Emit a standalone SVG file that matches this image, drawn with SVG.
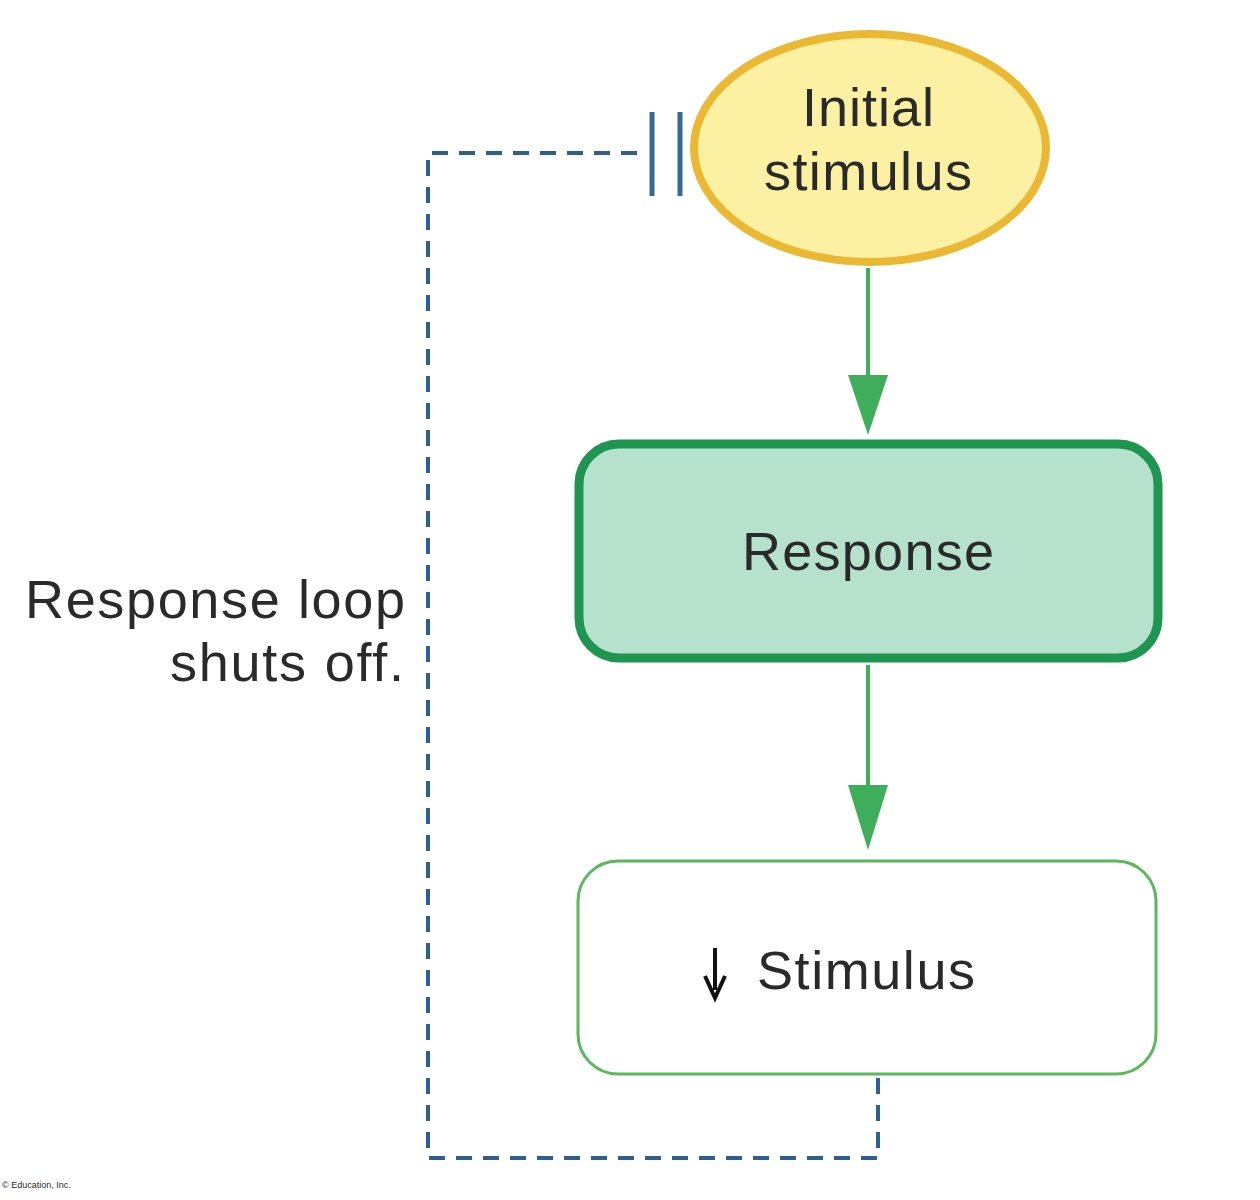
<svg xmlns="http://www.w3.org/2000/svg" width="1260" height="1200" viewBox="0 0 1260 1200">
<style>
text{font-family:"Liberation Sans",Arial,sans-serif;fill:#2a2a2a}
.big{font-size:54px}
.g{stroke:#3fae5a;stroke-width:4;fill:none}
</style>
<rect width="1260" height="1200" fill="#fff"/>
<g id="connectors">
<path d="M878,1078 V1158 H428 V153 H645" fill="none" stroke="#2f5f8c" stroke-width="4" stroke-dasharray="16,11"/>
<line x1="652" y1="112" x2="652" y2="196" stroke="#356a96" stroke-width="5"/>
<line x1="680" y1="112" x2="680" y2="196" stroke="#356a96" stroke-width="5"/>
<line class="g" x1="868" y1="268" x2="868" y2="380"/>
<path d="M848,375 L888,375 L868,435 Z" fill="#3fae5a"/>
<line class="g" x1="868" y1="665" x2="868" y2="790"/>
<path d="M848,785 L888,785 L868,850 Z" fill="#3fae5a"/>
</g>
<g id="initial">
<ellipse cx="870" cy="148" rx="176" ry="114" fill="#fcf0a2" stroke="#eab833" stroke-width="8"/>
<text class="big" x="868" y="126" text-anchor="middle" textLength="132">Initial</text>
<text class="big" x="868" y="190" text-anchor="middle" textLength="208">stimulus</text>
</g>
<g id="response">
<rect x="579" y="444" width="579" height="214" rx="40" fill="#b6e1cd" stroke="#1e9550" stroke-width="9"/>
<text class="big" x="868" y="570" text-anchor="middle" textLength="252">Response</text>
</g>
<g id="stimulus">
<rect x="578" y="861" width="578" height="213" rx="40" fill="#fff" stroke="#5cb85c" stroke-width="3"/>
<line x1="715" y1="948" x2="715" y2="990" stroke="#111" stroke-width="4"/>
<path d="M705,976 L715,998 L725,976" fill="none" stroke="#111" stroke-width="4"/>
<text class="big" x="757" y="989" textLength="218">Stimulus</text>
</g>
<g id="label">
<text class="big" x="25" y="618" textLength="380">Response loop</text>
<text class="big" x="170" y="681" textLength="234">shuts off.</text>
</g>
<text x="2" y="1188" font-size="9" fill="#666">© Education, Inc.</text>
</svg>
